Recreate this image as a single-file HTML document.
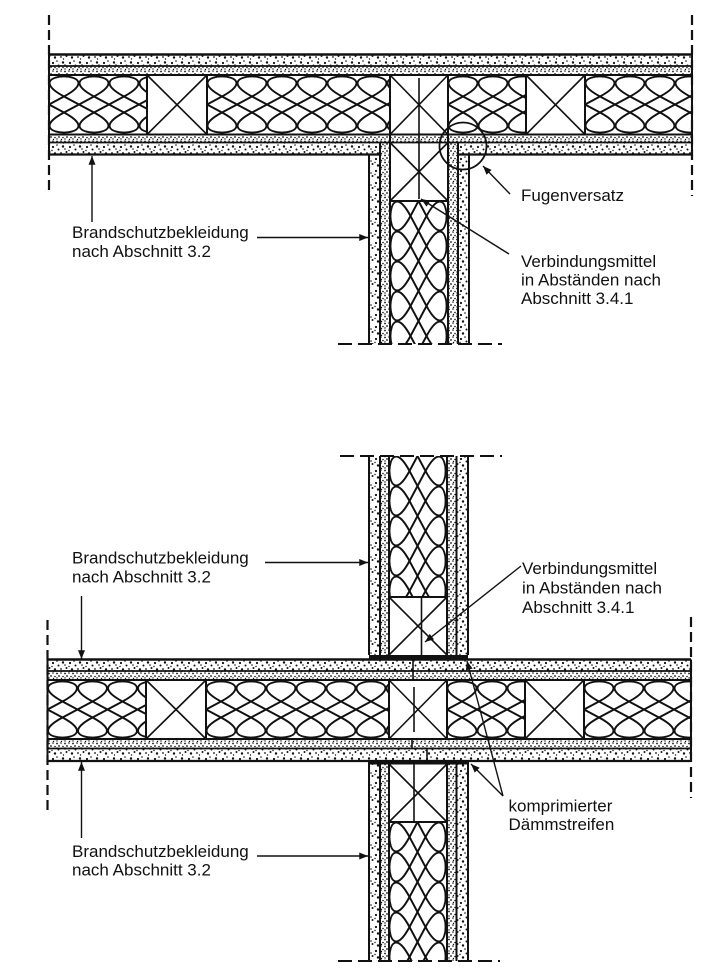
<!DOCTYPE html>
<html><head><meta charset="utf-8">
<style>
html,body{margin:0;padding:0;background:#fff}
svg{display:block}
text{font-family:"Liberation Sans",Arial,sans-serif;font-size:17px;fill:#111}
</style></head>
<body>
<svg width="709" height="974" viewBox="0 0 709 974" xmlns="http://www.w3.org/2000/svg">
<defs>
<pattern id="ins" width="30" height="59" patternUnits="userSpaceOnUse">
<path d="M15,21.5 C-35,-5.2 65,-5.2 15,21.5 M15,37.5 C-35,64.2 65,64.2 15,37.5 M15,21.5 L45,37.5 M15,21.5 L-15,37.5 M-15,21.5 L15,37.5 M45,21.5 L15,37.5" fill="none" stroke="#111" stroke-width="1.9"/>
</pattern>
<pattern id="sp" width="17" height="12" patternUnits="userSpaceOnUse">
<rect width="17" height="12" fill="#fff"/>
<g fill="#111"><circle cx="2" cy="3" r="1.1"/><circle cx="7.5" cy="5.5" r="1"/><circle cx="12" cy="2.5" r="1.2"/><circle cx="15.5" cy="8" r="1"/><circle cx="4" cy="9.5" r="1.2"/><circle cx="10" cy="9" r="0.9"/><circle cx="14" cy="5" r="0.8"/><circle cx="6" cy="1" r="0.8"/><circle cx="1" cy="6.5" r="0.7"/><circle cx="12.5" cy="11" r="0.7"/></g>
</pattern>
<pattern id="dn" width="8" height="7" patternUnits="userSpaceOnUse">
<rect width="8" height="7" fill="#fff"/>
<g fill="#111"><circle cx="1" cy="1.5" r="0.9"/><circle cx="5" cy="1" r="0.8"/><circle cx="3" cy="4" r="0.9"/><circle cx="7" cy="4.5" r="0.8"/><circle cx="1" cy="6" r="0.7"/><circle cx="5.5" cy="6.5" r="0.7"/></g>
</pattern>
<marker id="ah" viewBox="0 0 10 8" refX="10" refY="4" markerWidth="10" markerHeight="7" markerUnits="userSpaceOnUse" orient="auto"><path d="M0,0 L10,4 L0,8 z" fill="#111"/></marker>
</defs>
<rect width="709" height="974" fill="#fff"/>

<!-- ================= TOP PANEL ================= -->
<rect x="49" y="54.5" width="643" height="11.5" fill="url(#sp)"/>
<rect x="49" y="66" width="643" height="9" fill="url(#dn)"/>
<rect x="49" y="134.5" width="643" height="8" fill="url(#dn)"/>
<rect x="49" y="142.5" width="331" height="12" fill="url(#sp)"/>
<rect x="458" y="142.5" width="234" height="12" fill="url(#sp)"/>
<rect x="369" y="154.5" width="11" height="189.5" fill="url(#sp)"/>
<rect x="380" y="142.5" width="10" height="201.5" fill="url(#dn)"/>
<rect x="448" y="142.5" width="10" height="201.5" fill="url(#dn)"/>
<rect x="458" y="154.5" width="11" height="189.5" fill="url(#sp)"/>

<g transform="translate(49,75)"><rect width="98" height="59.5" fill="url(#ins)"/></g>
<g transform="translate(207,75)"><rect width="183" height="59.5" fill="url(#ins)"/></g>
<g transform="translate(448,75)"><rect width="78" height="59.5" fill="url(#ins)"/></g>
<g transform="translate(585,75)"><rect width="107" height="59.5" fill="url(#ins)"/></g>
<g transform="translate(448,201) rotate(90)"><rect width="143" height="58" fill="url(#ins)"/></g>

<g stroke="#111" stroke-width="2" fill="none">
<line x1="49" y1="54.5" x2="692" y2="54.5" stroke-width="2.6"/>
<line x1="49" y1="66" x2="692" y2="66" stroke-width="1.8"/>
<line x1="49" y1="75" x2="692" y2="75"/>
<line x1="49" y1="134.5" x2="692" y2="134.5"/>
<line x1="49" y1="142.5" x2="692" y2="142.5" stroke-width="1.8"/>
<line x1="49" y1="154.5" x2="380" y2="154.5" stroke-width="2.2"/>
<line x1="458" y1="154.5" x2="692" y2="154.5" stroke-width="2.2"/>
<line x1="49" y1="54.5" x2="49" y2="154.5"/>
<line x1="692" y1="54.5" x2="692" y2="154.5"/>
<line x1="147" y1="75" x2="147" y2="134.5"/>
<line x1="207" y1="75" x2="207" y2="134.5"/>
<line x1="526" y1="75" x2="526" y2="134.5"/>
<line x1="585" y1="75" x2="585" y2="134.5"/>
<g stroke-width="1.6">
<line x1="147" y1="75" x2="207" y2="134.5"/><line x1="207" y1="75" x2="147" y2="134.5"/>
<line x1="390" y1="75" x2="448" y2="134.5"/><line x1="448" y1="75" x2="390" y2="134.5"/>
<line x1="526" y1="75" x2="585" y2="134.5"/><line x1="585" y1="75" x2="526" y2="134.5"/>
<line x1="390" y1="142.5" x2="448" y2="201"/><line x1="448" y1="142.5" x2="390" y2="201"/>
</g>
<line x1="369" y1="154.5" x2="369" y2="344"/>
<line x1="380" y1="142.5" x2="380" y2="344"/>
<line x1="390" y1="75" x2="390" y2="344"/>
<line x1="448" y1="75" x2="448" y2="344"/>
<line x1="458" y1="142.5" x2="458" y2="344"/>
<line x1="469" y1="154.5" x2="469" y2="344"/>
<line x1="390" y1="201" x2="448" y2="201"/>
<line x1="419" y1="78" x2="419" y2="199" stroke-width="1.6"/>
<circle cx="463" cy="146" r="23.5" stroke-width="1.8"/>
<line x1="49" y1="15" x2="49" y2="192" stroke-dasharray="10 5" stroke-width="2.2"/>
<line x1="692" y1="15" x2="692" y2="196" stroke-dasharray="10 5" stroke-width="2.2"/>
<line x1="338" y1="344" x2="502" y2="344" stroke-dasharray="14 6" stroke-width="2"/>
<g stroke-width="1.4">
<line x1="92" y1="222" x2="92" y2="156" marker-end="url(#ah)"/>
<line x1="257" y1="237.5" x2="368" y2="237.5" marker-end="url(#ah)"/>
<line x1="509" y1="254" x2="421" y2="199" marker-end="url(#ah)"/>
<line x1="510" y1="194" x2="483" y2="166" marker-end="url(#ah)"/>
</g>
</g>

<text x="72" y="238">Brandschutzbekleidung</text>
<text x="72" y="257">nach Abschnitt 3.2</text>
<text x="521" y="201">Fugenversatz</text>
<text x="521" y="267">Verbindungsmittel</text>
<text x="521" y="285.5">in Abständen nach</text>
<text x="521" y="304">Abschnitt 3.4.1</text>

<!-- ================= BOTTOM PANEL ================= -->
<rect x="47.5" y="659.5" width="643.5" height="11.5" fill="url(#sp)"/>
<rect x="47.5" y="671" width="643.5" height="9" fill="url(#dn)"/>
<rect x="47.5" y="739" width="643.5" height="9.5" fill="url(#dn)"/>
<rect x="47.5" y="748.5" width="643.5" height="12.5" fill="url(#sp)"/>

<g transform="translate(47.5,680)"><rect width="98.5" height="59" fill="url(#ins)"/></g>
<g transform="translate(206,680)"><rect width="183" height="59" fill="url(#ins)"/></g>
<g transform="translate(447,680)"><rect width="78" height="59" fill="url(#ins)"/></g>
<g transform="translate(584,680)"><rect width="107" height="59" fill="url(#ins)"/></g>

<rect x="369" y="456" width="11" height="199" fill="url(#sp)"/>
<rect x="380" y="456" width="9" height="199" fill="url(#dn)"/>
<rect x="447" y="456" width="9.5" height="199" fill="url(#dn)"/>
<rect x="456.5" y="456" width="11.5" height="199" fill="url(#sp)"/>
<g transform="translate(447,456) rotate(90)"><rect width="141" height="58" fill="url(#ins)"/></g>
<rect x="369" y="761" width="11" height="200" fill="url(#sp)"/>
<rect x="380" y="761" width="9" height="200" fill="url(#dn)"/>
<rect x="447" y="761" width="9.5" height="200" fill="url(#dn)"/>
<rect x="456.5" y="761" width="11.5" height="200" fill="url(#sp)"/>
<g transform="translate(447,822) rotate(90)"><rect width="139" height="58" fill="url(#ins)"/></g>

<g stroke="#111" stroke-width="2" fill="none">
<line x1="47.5" y1="659.5" x2="691" y2="659.5" stroke-width="2.6"/>
<line x1="47.5" y1="671" x2="691" y2="671" stroke-width="1.8"/>
<line x1="47.5" y1="680" x2="691" y2="680"/>
<line x1="47.5" y1="739" x2="691" y2="739"/>
<line x1="47.5" y1="748.5" x2="691" y2="748.5" stroke-width="1.8"/>
<line x1="47.5" y1="761" x2="691" y2="761" stroke-width="2.2"/>
<line x1="47.5" y1="659.5" x2="47.5" y2="761"/>
<line x1="691" y1="659.5" x2="691" y2="761"/>
<line x1="146" y1="680" x2="146" y2="739"/>
<line x1="206" y1="680" x2="206" y2="739"/>
<line x1="389" y1="680" x2="389" y2="739"/>
<line x1="447" y1="680" x2="447" y2="739"/>
<line x1="525" y1="680" x2="525" y2="739"/>
<line x1="584" y1="680" x2="584" y2="739"/>
<g stroke-width="1.6">
<line x1="146" y1="680" x2="206" y2="739"/><line x1="206" y1="680" x2="146" y2="739"/>
<line x1="389" y1="680" x2="447" y2="739"/><line x1="447" y1="680" x2="389" y2="739"/>
<line x1="525" y1="680" x2="584" y2="739"/><line x1="584" y1="680" x2="525" y2="739"/>
<line x1="389" y1="597" x2="447" y2="655"/><line x1="447" y1="597" x2="389" y2="655"/>
<line x1="389" y1="764" x2="447" y2="822"/><line x1="447" y1="764" x2="389" y2="822"/>
<line x1="413" y1="659.5" x2="413" y2="680"/>
<line x1="412" y1="739" x2="412" y2="748.5"/>
<line x1="427" y1="748.5" x2="427" y2="761"/>
<line x1="414" y1="687" x2="414" y2="732"/>
<line x1="421.5" y1="598" x2="421.5" y2="659"/>
<line x1="414" y1="764" x2="414" y2="822"/>
</g>
<line x1="369" y1="456" x2="369" y2="655"/>
<line x1="380" y1="456" x2="380" y2="655"/>
<line x1="389" y1="456" x2="389" y2="655"/>
<line x1="447" y1="456" x2="447" y2="655"/>
<line x1="456.5" y1="456" x2="456.5" y2="655"/>
<line x1="468" y1="456" x2="468" y2="655"/>
<line x1="389" y1="597" x2="447" y2="597"/>
<line x1="369" y1="761" x2="369" y2="961"/>
<line x1="380" y1="761" x2="380" y2="961"/>
<line x1="389" y1="761" x2="389" y2="961"/>
<line x1="447" y1="761" x2="447" y2="961"/>
<line x1="456.5" y1="761" x2="456.5" y2="961"/>
<line x1="468" y1="761" x2="468" y2="961"/>
<line x1="389" y1="822" x2="447" y2="822"/>
<line x1="47.5" y1="620" x2="47.5" y2="810" stroke-dasharray="10 5" stroke-width="2.2"/>
<line x1="691" y1="617" x2="691" y2="798" stroke-dasharray="10 5" stroke-width="2.2"/>
<line x1="340" y1="456" x2="502" y2="456" stroke-dasharray="14 6"/>
<line x1="338" y1="961" x2="500" y2="961" stroke-dasharray="14 6"/>
<g stroke-width="1.4">
<line x1="81.5" y1="596" x2="81.5" y2="659" marker-end="url(#ah)"/>
<line x1="265" y1="562.5" x2="368" y2="562.5" marker-end="url(#ah)"/>
<line x1="521" y1="566" x2="425" y2="642" marker-end="url(#ah)"/>
<line x1="81.5" y1="838" x2="81.5" y2="762" marker-end="url(#ah)"/>
<line x1="257" y1="856" x2="368" y2="856" marker-end="url(#ah)"/>
<line x1="503" y1="796" x2="471" y2="764" marker-end="url(#ah)"/>
<line x1="503" y1="796" x2="467" y2="661" marker-end="url(#ah)"/>
</g>
</g>
<rect x="369" y="655" width="99" height="4.5" fill="#111"/>
<rect x="369" y="761" width="99" height="3.5" fill="#111"/>

<text x="72" y="563.5">Brandschutzbekleidung</text>
<text x="72" y="582.5">nach Abschnitt 3.2</text>
<text x="522" y="574">Verbindungsmittel</text>
<text x="522" y="593.5">in Abständen nach</text>
<text x="522" y="613">Abschnitt 3.4.1</text>
<text x="72" y="857">Brandschutzbekleidung</text>
<text x="72" y="875.5">nach Abschnitt 3.2</text>
<text x="508.5" y="811.5">komprimierter</text>
<text x="508.5" y="830">Dämmstreifen</text>
</svg>
</body></html>
